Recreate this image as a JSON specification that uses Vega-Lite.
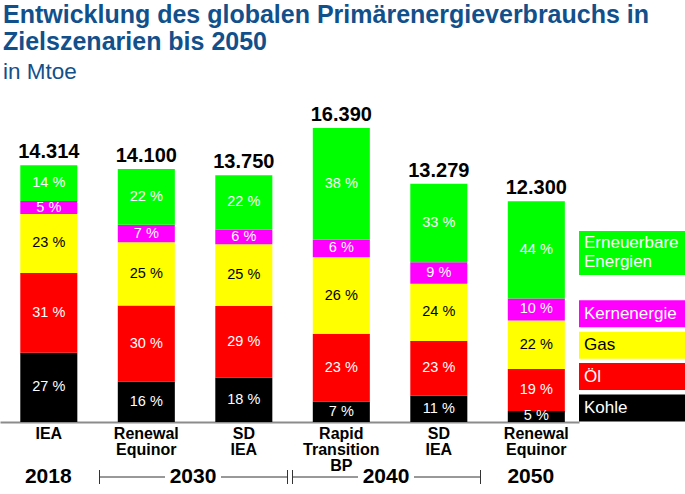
{
  "$schema": "https://vega.github.io/schema/vega-lite/v6.json",
  "padding": {"left": 0, "top": 2, "right": 0, "bottom": 0},
  "title": {
    "text": ["Entwicklung des globalen Primärenergieverbrauchs in", "Zielszenarien bis 2050"],
    "subtitle": "in Mtoe",
    "anchor": "start",
    "dx": 3,
    "font": "Liberation Sans",
    "fontSize": 25,
    "fontWeight": "bold",
    "color": "#12508C",
    "lineHeight": 27,
    "subtitleFont": "Liberation Sans",
    "subtitleFontSize": 22.5,
    "subtitleColor": "#12508C",
    "subtitlePadding": 6,
    "offset": 16
  },
  "datasets": {
    "energy": [
      {"id": "IEA 2018", "energy": "Kohle", "k": 1, "pct": 27, "mtoe": 3865},
      {"id": "IEA 2018", "energy": "Öl", "k": 2, "pct": 31, "mtoe": 4437},
      {"id": "IEA 2018", "energy": "Gas", "k": 3, "pct": 23, "mtoe": 3292},
      {"id": "IEA 2018", "energy": "Kernenergie", "k": 4, "pct": 5, "mtoe": 716},
      {"id": "IEA 2018", "energy": "Erneuerbare Energien", "k": 5, "pct": 14, "mtoe": 2004},
      {"id": "Renewal Equinor 2030", "energy": "Kohle", "k": 1, "pct": 16, "mtoe": 2256},
      {"id": "Renewal Equinor 2030", "energy": "Öl", "k": 2, "pct": 30, "mtoe": 4230},
      {"id": "Renewal Equinor 2030", "energy": "Gas", "k": 3, "pct": 25, "mtoe": 3525},
      {"id": "Renewal Equinor 2030", "energy": "Kernenergie", "k": 4, "pct": 7, "mtoe": 987},
      {"id": "Renewal Equinor 2030", "energy": "Erneuerbare Energien", "k": 5, "pct": 22, "mtoe": 3102},
      {"id": "SD IEA 2030", "energy": "Kohle", "k": 1, "pct": 18, "mtoe": 2475},
      {"id": "SD IEA 2030", "energy": "Öl", "k": 2, "pct": 29, "mtoe": 3988},
      {"id": "SD IEA 2030", "energy": "Gas", "k": 3, "pct": 25, "mtoe": 3437},
      {"id": "SD IEA 2030", "energy": "Kernenergie", "k": 4, "pct": 6, "mtoe": 825},
      {"id": "SD IEA 2030", "energy": "Erneuerbare Energien", "k": 5, "pct": 22, "mtoe": 3025},
      {"id": "Rapid Transition BP 2040", "energy": "Kohle", "k": 1, "pct": 7, "mtoe": 1147},
      {"id": "Rapid Transition BP 2040", "energy": "Öl", "k": 2, "pct": 23, "mtoe": 3770},
      {"id": "Rapid Transition BP 2040", "energy": "Gas", "k": 3, "pct": 26, "mtoe": 4261},
      {"id": "Rapid Transition BP 2040", "energy": "Kernenergie", "k": 4, "pct": 6, "mtoe": 983},
      {"id": "Rapid Transition BP 2040", "energy": "Erneuerbare Energien", "k": 5, "pct": 38, "mtoe": 6229},
      {"id": "SD IEA 2040", "energy": "Kohle", "k": 1, "pct": 11, "mtoe": 1461},
      {"id": "SD IEA 2040", "energy": "Öl", "k": 2, "pct": 23, "mtoe": 3054},
      {"id": "SD IEA 2040", "energy": "Gas", "k": 3, "pct": 24, "mtoe": 3187},
      {"id": "SD IEA 2040", "energy": "Kernenergie", "k": 4, "pct": 9, "mtoe": 1195},
      {"id": "SD IEA 2040", "energy": "Erneuerbare Energien", "k": 5, "pct": 33, "mtoe": 4382},
      {"id": "Renewal Equinor 2050", "energy": "Kohle", "k": 1, "pct": 5, "mtoe": 615},
      {"id": "Renewal Equinor 2050", "energy": "Öl", "k": 2, "pct": 19, "mtoe": 2337},
      {"id": "Renewal Equinor 2050", "energy": "Gas", "k": 3, "pct": 22, "mtoe": 2706},
      {"id": "Renewal Equinor 2050", "energy": "Kernenergie", "k": 4, "pct": 10, "mtoe": 1230},
      {"id": "Renewal Equinor 2050", "energy": "Erneuerbare Energien", "k": 5, "pct": 44, "mtoe": 5412}
    ],
    "legend": [
      {"energy": "Erneuerbare Energien"},
      {"energy": "Kernenergie"},
      {"energy": "Gas"},
      {"energy": "Öl"},
      {"energy": "Kohle"}
    ],
    "years": [
      {"year": "2018", "mid": 0},
      {"year": "2030", "start": 0.5, "mid": 1.5, "end": 2.5},
      {"year": "2040", "start": 2.5, "mid": 3.5, "end": 4.5},
      {"year": "2050", "mid": 5}
    ]
  },
  "columns": 2,
  "bounds": "flush",
  "spacing": {"row": 45, "column": 0},
  "concat": [
    {
      "width": 579,
      "height": 323,
      "data": {"name": "energy"},
      "layer": [
        {
          "mark": {"type": "bar"},
          "encoding": {
            "x": {
              "field": "id", "type": "nominal", "sort": null,
              "scale": {"paddingInner": 0.415, "paddingOuter": 0.1767, "align": 0.589},
              "axis": {
                "title": null,
                "labelExpr": "split(slice(datum.value, 0, -5), ' ')",
                "labelFontSize": 16,
                "labelFontWeight": "bold",
                "labelColor": "#000000",
                "labelLineHeight": 16,
                "labelPadding": 3,
                "labelOverlap": false,
                "labelAngle": 0,
                "ticks": false,
                "domainColor": "#8c8c8c",
                "domainWidth": 2
              }
            },
            "y": {"field": "mtoe", "type": "quantitative", "stack": "zero", "scale": {"domain": [0, 17900]}, "axis": null},
            "color": {
              "field": "energy", "type": "nominal",
              "scale": {"domain": ["Erneuerbare Energien", "Kernenergie", "Gas", "Öl", "Kohle"], "range": ["#00FF00", "#FF00FF", "#FFFF00", "#FF0000", "#000000"]},
              "legend": null
            },
            "order": {"field": "k", "type": "quantitative"}
          }
        },
        {
          "mark": {"type": "text", "text": {"expr": "datum.pct + ' %'"}, "fontSize": 14.5, "baseline": "middle"},
          "encoding": {
            "x": {"field": "id", "type": "nominal", "sort": null},
            "y": {"field": "mtoe", "type": "quantitative", "stack": "zero", "bandPosition": 0.5},
            "detail": {"field": "energy"},
            "order": {"field": "k", "type": "quantitative"},
            "color": {"condition": {"test": "datum.energy === 'Gas'", "value": "#000000"}, "value": "#ffffff"}
          }
        },
        {
          "mark": {"type": "text", "fontSize": 20, "fontWeight": "bold", "baseline": "bottom", "dy": -3, "color": "#000000"},
          "encoding": {
            "x": {"field": "id", "type": "nominal", "sort": null},
            "y": {"aggregate": "sum", "field": "mtoe", "type": "quantitative"},
            "text": {"aggregate": "sum", "field": "mtoe", "type": "quantitative", "format": ",d"}
          }
        }
      ]
    },
    {
      "width": 106,
      "height": 323,
      "data": {"name": "legend"},
      "encoding": {
        "y": {
          "field": "energy", "type": "nominal",
          "scale": {"domain": ["spacer1", "spacer2", "spacer3", "spacer4", "Erneuerbare Energien", "spacer5", "Kernenergie", "Gas", "Öl", "Kohle"], "paddingInner": 0.108, "paddingOuter": 0.2, "align": 1},
          "axis": null
        },
        "x": {"datum": 0, "type": "quantitative", "scale": {"domain": [0, 1]}, "axis": null}
      },
      "layer": [
        {
          "transform": [{"filter": "datum.energy !== 'Erneuerbare Energien'"}],
          "mark": {"type": "rect", "height": 27},
          "encoding": {
            "x2": {"datum": 1},
            "color": {"field": "energy", "type": "nominal", "legend": null}
          }
        },
        {
          "transform": [{"filter": "datum.energy === 'Erneuerbare Energien'"}],
          "mark": {"type": "rect", "height": 44, "yOffset": 2},
          "encoding": {
            "x2": {"datum": 1},
            "color": {"field": "energy", "type": "nominal", "legend": null}
          }
        },
        {
          "transform": [{"filter": "datum.energy !== 'Erneuerbare Energien'"}],
          "mark": {"type": "text", "align": "left", "dx": 5, "fontSize": 17, "baseline": "middle"},
          "encoding": {
            "text": {"field": "energy"},
            "color": {"condition": {"test": "datum.energy === 'Gas'", "value": "#000000"}, "value": "#ffffff"}
          }
        },
        {
          "transform": [{"filter": "datum.energy === 'Erneuerbare Energien'"}],
          "mark": {"type": "text", "align": "left", "dx": 5, "dy": -8, "fontSize": 17, "lineBreak": " ", "lineHeight": 19, "baseline": "middle", "color": "#ffffff"},
          "encoding": {
            "text": {"field": "energy"}
          }
        }
      ]
    },
    {
      "width": 579,
      "height": 20,
      "data": {"name": "years"},
      "layer": [
        {
          "mark": {"type": "text", "fontSize": 21, "fontWeight": "bold", "baseline": "middle", "color": "#000000"},
          "encoding": {
            "x": {"field": "mid", "type": "quantitative", "scale": {"domain": [-0.5, 5.438]}, "axis": null},
            "text": {"field": "year"}
          }
        },
        {
          "transform": [{"filter": "isValid(datum.start)"}],
          "mark": {"type": "rule", "xOffset": 3, "x2Offset": -28, "color": "#333333", "strokeWidth": 1},
          "encoding": {
            "x": {"field": "start", "type": "quantitative"},
            "x2": {"field": "mid"}
          }
        },
        {
          "transform": [{"filter": "isValid(datum.start)"}],
          "mark": {"type": "rule", "xOffset": 28, "x2Offset": -2, "color": "#333333", "strokeWidth": 1},
          "encoding": {
            "x": {"field": "mid", "type": "quantitative"},
            "x2": {"field": "end"}
          }
        },
        {
          "transform": [{"filter": "isValid(datum.start)"}],
          "mark": {"type": "tick", "orient": "vertical", "size": 14, "thickness": 1, "xOffset": 3, "color": "#333333", "opacity": 1},
          "encoding": {"x": {"field": "start", "type": "quantitative"}}
        },
        {
          "transform": [{"filter": "isValid(datum.start)"}],
          "mark": {"type": "tick", "orient": "vertical", "size": 14, "thickness": 1, "xOffset": -2, "color": "#333333", "opacity": 1},
          "encoding": {"x": {"field": "end", "type": "quantitative"}}
        }
      ]
    }
  ],
  "config": {
    "font": "Liberation Sans",
    "view": {"stroke": null},
    "locale": {"number": {"decimal": ",", "thousands": ".", "grouping": [3], "currency": ["", " €"]}}
  }
}
